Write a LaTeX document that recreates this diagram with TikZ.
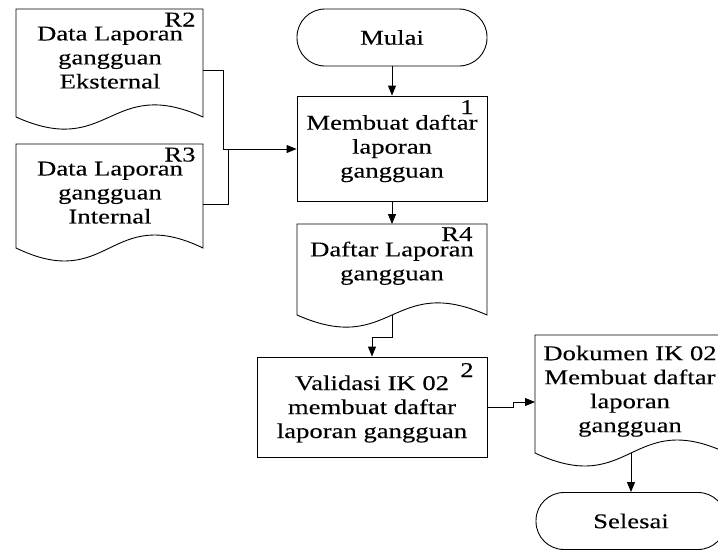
\documentclass[tikz,border=0pt]{standalone}
\usepackage{fontspec}
\setmainfont{Liberation Serif}[FakeStretch=1.27, FakeBold=0.2]
\usetikzlibrary{arrows.meta}
\begin{document}
\begin{tikzpicture}[x=1pt,y=-1pt,
  every node/.style={font=\fontsize{21}{24}\selectfont, inner sep=0pt},
  outline/.style={draw=black, line width=0.9pt},
  procbox/.style={outline, rectangle, align=center},
  termbox/.style={outline, rectangle, rounded corners=28pt, minimum width=190pt, minimum height=57pt},
  doctext/.style={align=center},
  tag/.style={anchor=base},
  link/.style={draw=black, line width=0.9pt},
  flow/.style={link, -{Triangle[length=10pt,width=8pt]}}]
\useasboundingbox (0,0) rectangle (718,550);
\clip (0,0) rectangle (718,550);

% start / end terminators
\node[termbox] (start) at (392,37.5) {Mulai};
\node[termbox] (stop) at (631,521) {Selesai};

% process steps
\node[procbox, minimum width=190pt, minimum height=105pt] (p1) at (392,148.5)
  {Membuat daftar\\laporan\\gangguan};
\node[tag] (p1tag) at (467,114) {1};
\node[procbox, minimum width=230pt, minimum height=100pt] (p2) at (372,407) {};
\node[doctext] (p2t) at (372,409) {Validasi IK 02\\membuat daftar\\laporan gangguan};
\node[tag] (p2tag) at (467,377) {2};

% document R2
\draw[outline] (16,117) -- (16,9) -- (203,9) -- (203,117)
  .. controls (109.5,75) and (109.5,159) .. (16,117) -- cycle;
\node[doctext] (r2t) at (110,57.7) {Data Laporan\\gangguan\\Eksternal};
\node[tag] (r2tag) at (180,26.5) {R2};
\coordinate (r2out) at (203,70);

% document R3
\draw[outline] (16,248) -- (16,144) -- (203,144) -- (203,248)
  .. controls (109.5,203) and (109.5,293) .. (16,248) -- cycle;
\node[doctext] (r3t) at (110,192.7) {Data Laporan\\gangguan\\Internal};
\node[tag] (r3tag) at (180,161.5) {R3};
\coordinate (r3out) at (203,204);

% document R4
\draw[outline] (297,315) -- (297,224) -- (487,224) -- (487,315)
  .. controls (392,273) and (392,357) .. (297,315) -- cycle;
\node[doctext] (r4t) at (392,263.2) {Daftar Laporan\\gangguan};
\node[tag] (r4tag) at (457,241) {R4};
\coordinate (r4in) at (392,224);
\coordinate (r4out) at (392,315);

% output document
\draw[outline] (535,453) -- (535,335) -- (727,335) -- (727,453)
  .. controls (631,408) and (631,498) .. (535,453) -- cycle;
\node[doctext] (dokt) at (630,391.2) {Dokumen IK 02\\Membuat daftar\\laporan\\gangguan};
\coordinate (dokin) at (535,402);
\coordinate (dokout) at (631,453);

% connectors
\coordinate (j) at (223,149);
\draw[link] (r2out) -| (j);
\draw[link] (r3out) -- ++(25,0) |- (j);
\draw[flow] (j) -- (j -| p1.west);
\draw[flow] (start) -- (p1);
\draw[flow] (p1.south) -- (r4in);
\draw[flow] (r4out) -- ++(0,22) -| (p2.north);
\draw[flow] (p2.east) -- ++(26,0) |- (dokin);
\draw[flow] (dokout) -- (stop.north);
\end{tikzpicture}
\end{document}
